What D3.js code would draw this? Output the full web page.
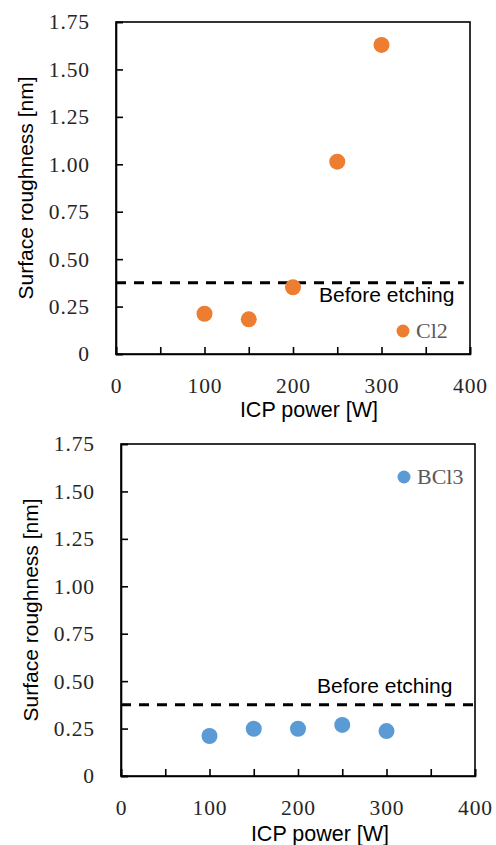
<!DOCTYPE html>
<html>
<head>
<meta charset="utf-8">
<script src="https://cdn.jsdelivr.net/npm/d3@7"></script>
<style>
  body { margin: 0; background: #fff; }
</style>
</head>
<body>
<div id="chart-area"></div>
<script>
// data
const power = [100, 150, 200, 250, 300];
const cl2Roughness = [0.212, 0.183, 0.352, 1.014, 1.629];
const bcl3Roughness = [0.211, 0.249, 0.249, 0.269, 0.237];
const beforeEtching = 0.376;
const xTicks = [0, 50, 100, 150, 200, 250, 300, 350, 400];
const xLabels = [0, 100, 200, 300, 400];
const yTicks = [0, 0.25, 0.5, 0.75, 1, 1.25, 1.5, 1.75];

const width = 496;
const height = 845;

const svg = d3.select('#chart-area')
  .append('svg')
  .attr('width', width)
  .attr('height', height);

const panels = [
  {
    name: 'Cl2', color: '#ED7D31', values: cl2Roughness,
    left: 116, top: 22, w: 354, h: 332,
    lineEnd: 393,
    legend: {x: 403, y: 331, tx: 416},
    beforeText: {x: 319, y: 302},
    xTitle: {x: 309, y: 417},
    yTitle: {x: 33, y: 188}
  },
  {
    name: 'BCl3', color: '#5B9BD5', values: bcl3Roughness,
    left: 121, top: 444, w: 354, h: 332,
    lineEnd: 400,
    legend: {x: 404, y: 477, tx: 417},
    beforeText: {x: 317, y: 693},
    xTitle: {x: 320, y: 841},
    yTitle: {x: 38, y: 610}
  }
];

panels.forEach(p => drawPanel(p));

function drawPanel(p) {
  const g = svg.append('g')
    .attr('transform', `translate(${p.left},${p.top})`);

  const x = d3.scaleLinear().domain([0, 400]).range([0, p.w]);
  const y = d3.scaleLinear().domain([0, 1.75]).range([p.h, 0]);

  // box
  g.append('rect')
    .attr('width', p.w)
    .attr('height', p.h)
    .attr('fill', 'none')
    .attr('stroke', '#000')
    .attr('stroke-width', 1.6);

  const xAxis = d3.axisBottom(x)
    .tickValues(xTicks)
    .tickSize(-7)
    .tickPadding(24)
    .tickFormat(d => xLabels.includes(d) ? d : '');

  const gx = g.append('g')
    .attr('transform', `translate(0,${p.h})`)
    .call(xAxis);

  const yAxis = d3.axisLeft(y)
    .tickValues(yTicks)
    .tickSize(-7)
    .tickPadding(26)
    .tickFormat(d => d === 0 ? '0' : d3.format('.2f')(d));

  const gy = g.append('g').call(yAxis);

  [gx, gy].forEach(a => {
    a.select('.domain').attr('stroke', '#000').attr('stroke-width', 1.6);
    a.selectAll('.tick line').attr('stroke', '#000').attr('stroke-width', 1.6);
    a.selectAll('.tick text')
      .attr('font-family', '"Liberation Serif", serif')
      .attr('font-size', '21.5px')
      .attr('letter-spacing', '0.9px')
      .attr('fill', '#262626');
  });

  // before etching reference
  g.append('line')
    .attr('x1', x(0))
    .attr('x2', x(p.lineEnd))
    .attr('y1', y(beforeEtching))
    .attr('y2', y(beforeEtching))
    .attr('stroke', '#000')
    .attr('stroke-width', 3)
    .attr('stroke-dasharray', '10,8');

  svg.append('text')
    .text('Before etching')
    .attr('x', p.beforeText.x)
    .attr('y', p.beforeText.y)
    .attr('font-family', '"Liberation Sans", Arial, sans-serif')
    .attr('font-size', '21px')
    .attr('fill', '#000');

  g.selectAll('circle.pt')
    .data(power.map((d, i) => ({power: d, r: p.values[i]})))
    .enter()
    .append('circle')
    .attr('class', 'pt')
    .attr('cx', d => x(d.power))
    .attr('cy', d => y(d.r))
    .attr('r', 8)
    .attr('fill', p.color);

  // legend
  svg.append('circle')
    .attr('cx', p.legend.x)
    .attr('cy', p.legend.y)
    .attr('r', 6.5)
    .attr('fill', p.color);

  svg.append('text')
    .text(p.name)
    .attr('x', p.legend.tx)
    .attr('y', p.legend.y + 7)
    .attr('font-family', '"Liberation Serif", serif')
    .attr('font-size', '22px')
    .attr('fill', '#595959');

  // axis titles
  svg.append('text')
    .text('ICP power [W]')
    .attr('x', p.xTitle.x)
    .attr('y', p.xTitle.y)
    .attr('text-anchor', 'middle')
    .attr('font-family', '"Liberation Sans", Arial, sans-serif')
    .attr('font-size', '21.5px')
    .attr('fill', '#000');

  svg.append('text')
    .text('Surface roughness [nm]')
    .attr('transform', `translate(${p.yTitle.x},${p.yTitle.y}) rotate(-90)`)
    .attr('text-anchor', 'middle')
    .attr('font-family', '"Liberation Sans", Arial, sans-serif')
    .attr('font-size', '21px')
    .attr('fill', '#000');
}
</script>
</body>
</html>
